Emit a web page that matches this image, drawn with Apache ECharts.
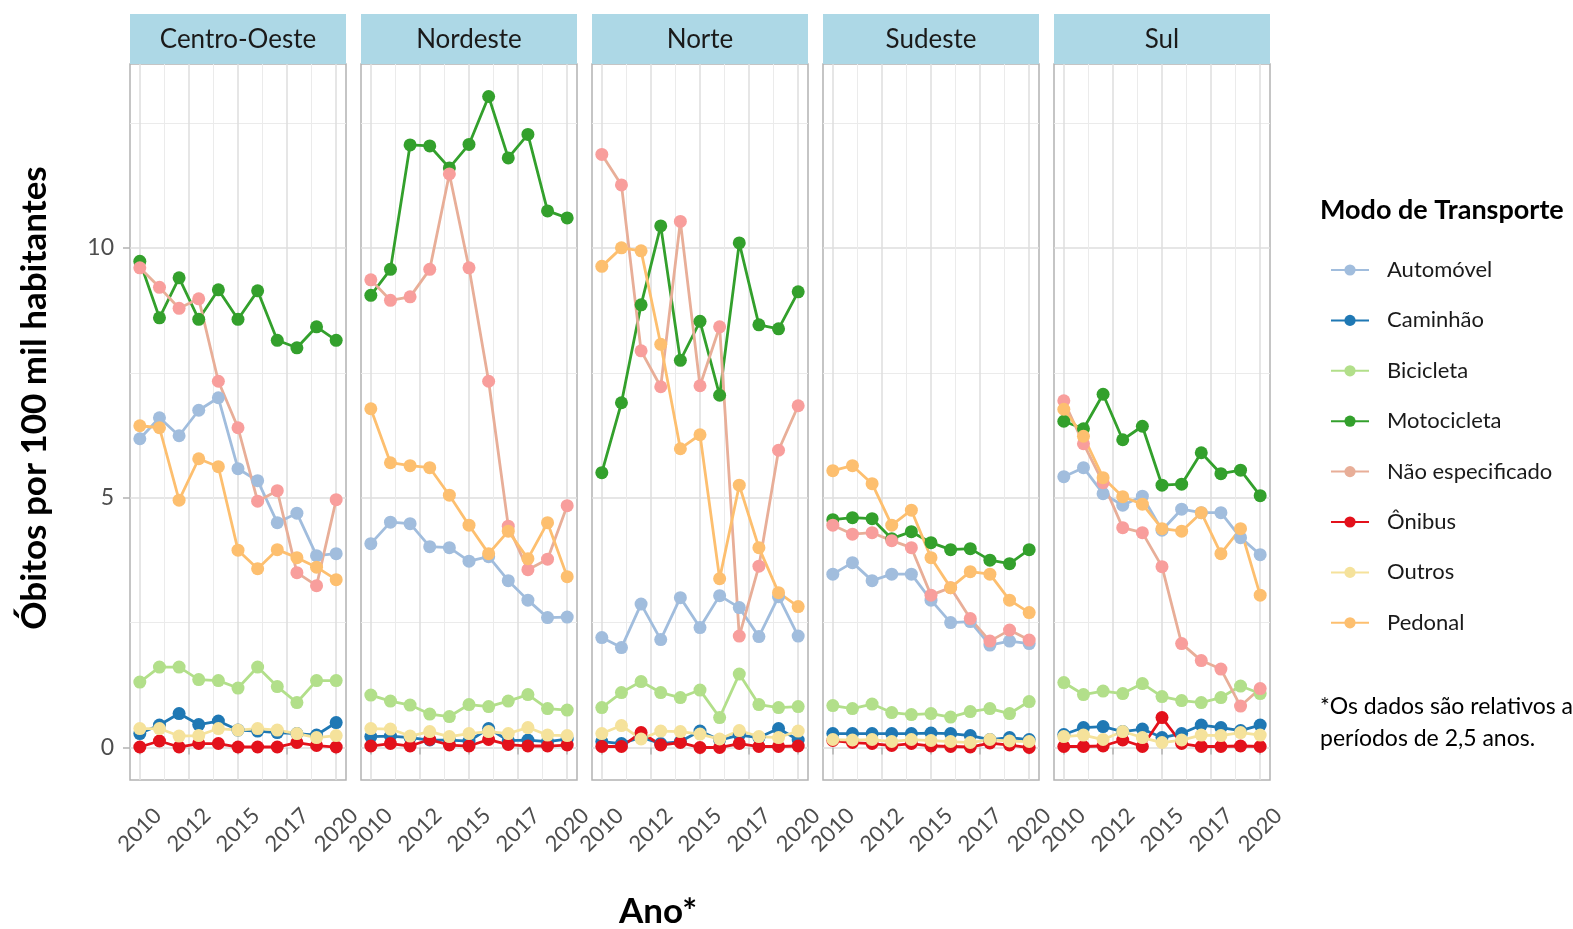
<!DOCTYPE html>
<html>
<head>
<meta charset="utf-8">
<title>Óbitos por modo de transporte</title>
<script src="https://cdn.jsdelivr.net/npm/echarts@6/dist/echarts.min.js"></script>
<style>
  html, body { margin: 0; padding: 0; background: #fff; }
  #chart { width: 1573px; height: 929px; }
</style>
</head>
<body>
<div id="chart"></div>
<script>
// anos e quebras dos eixos
const years = [2010, 2011, 2012, 2013, 2014, 2015, 2016, 2017, 2018, 2019, 2020];
const xBreaks = [2010, 2012.5, 2015, 2017.5, 2020];
const xMinor = [2011.25, 2013.75, 2016.25, 2018.75];
const yBreaks = [0, 5, 10];
const yMinor = [2.5, 7.5, 12.5];

const regions = ['Centro-Oeste', 'Nordeste', 'Norte', 'Sudeste', 'Sul'];
const modes = ['Automóvel', 'Caminhão', 'Bicicleta', 'Motocicleta', 'Não especificado', 'Ônibus', 'Outros', 'Pedonal'];
const lineColors = ['#A1BDDD', '#1F78B4', '#B2DF8A', '#33A02C', '#E8AE98', '#E3111B', '#F5E29B', '#FDBF6F'];
const dotColors  = ['#A1BDDD', '#1F78B4', '#B2DF8A', '#33A02C', '#F89E9C', '#E3111B', '#F5E29B', '#FDBF6F'];

// Centro-Oeste
const coAutomovel   = [6.18, 6.60, 6.24, 6.75, 7.00, 5.58, 5.34, 4.50, 4.69, 3.84, 3.88];
const coCaminhao    = [0.28, 0.45, 0.68, 0.46, 0.53, 0.35, 0.33, 0.30, 0.28, 0.25, 0.50];
const coBicicleta   = [1.31, 1.61, 1.61, 1.36, 1.34, 1.19, 1.61, 1.22, 0.90, 1.34, 1.34];
const coMotocicleta = [9.73, 8.60, 9.40, 8.57, 9.16, 8.57, 9.14, 8.15, 8.00, 8.42, 8.15];
const coNaoEsp      = [9.60, 9.21, 8.79, 8.98, 7.33, 6.40, 4.93, 5.14, 3.50, 3.24, 4.96];
const coOnibus      = [0.01, 0.13, 0.01, 0.08, 0.08, 0.01, 0.01, 0.01, 0.10, 0.04, 0.01];
const coOutros      = [0.38, 0.38, 0.23, 0.24, 0.38, 0.35, 0.38, 0.35, 0.28, 0.20, 0.24];
const coPedonal     = [6.44, 6.40, 4.95, 5.78, 5.62, 3.95, 3.58, 3.96, 3.80, 3.61, 3.36];

// Nordeste
const neAutomovel   = [4.08, 4.51, 4.48, 4.02, 4.00, 3.73, 3.82, 3.34, 2.95, 2.60, 2.61];
const neCaminhao    = [0.22, 0.23, 0.20, 0.15, 0.15, 0.13, 0.38, 0.14, 0.15, 0.12, 0.17];
const neBicicleta   = [1.05, 0.93, 0.85, 0.67, 0.62, 0.86, 0.82, 0.93, 1.06, 0.78, 0.75];
const neMotocicleta = [9.05, 9.57, 12.06, 12.04, 11.60, 12.07, 13.03, 11.80, 12.27, 10.74, 10.60];
const neNaoEsp      = [9.36, 8.95, 9.02, 9.57, 11.48, 9.60, 7.33, 4.43, 3.56, 3.77, 4.84];
const neOnibus      = [0.03, 0.08, 0.03, 0.16, 0.05, 0.03, 0.16, 0.06, 0.03, 0.03, 0.05];
const neOutros      = [0.38, 0.37, 0.23, 0.32, 0.22, 0.28, 0.32, 0.28, 0.40, 0.25, 0.24];
const nePedonal     = [6.78, 5.70, 5.64, 5.60, 5.05, 4.45, 3.88, 4.33, 3.78, 4.50, 3.42];

// Norte
const noAutomovel   = [2.20, 2.00, 2.87, 2.16, 3.00, 2.40, 3.04, 2.80, 2.22, 3.02, 2.23];
const noCaminhao    = [0.12, 0.08, 0.20, 0.08, 0.12, 0.33, 0.15, 0.25, 0.20, 0.38, 0.15];
const noBicicleta   = [0.80, 1.10, 1.32, 1.10, 1.00, 1.15, 0.60, 1.47, 0.86, 0.80, 0.82];
const noMotocicleta = [5.50, 6.90, 8.86, 10.44, 7.75, 8.53, 7.05, 10.10, 8.46, 8.38, 9.12];
const noNaoEsp      = [11.87, 11.26, 7.94, 7.22, 10.53, 7.24, 8.42, 2.23, 3.63, 5.95, 6.84];
const noOnibus      = [0.02, 0.02, 0.30, 0.05, 0.10, 0.00, 0.00, 0.08, 0.02, 0.02, 0.03];
const noOutros      = [0.28, 0.44, 0.17, 0.33, 0.32, 0.27, 0.17, 0.34, 0.22, 0.20, 0.33];
const noPedonal     = [9.63, 10.00, 9.94, 8.07, 5.98, 6.26, 3.38, 5.25, 4.00, 3.10, 2.82];

// Sudeste
const seAutomovel   = [3.47, 3.70, 3.34, 3.47, 3.47, 2.95, 2.50, 2.52, 2.05, 2.13, 2.08];
const seCaminhao    = [0.28, 0.28, 0.28, 0.28, 0.28, 0.29, 0.28, 0.24, 0.16, 0.20, 0.16];
const seBicicleta   = [0.84, 0.78, 0.87, 0.70, 0.66, 0.68, 0.61, 0.72, 0.78, 0.68, 0.92];
const seMotocicleta = [4.56, 4.60, 4.58, 4.18, 4.32, 4.10, 3.96, 3.98, 3.75, 3.68, 3.96];
const seNaoEsp      = [4.45, 4.27, 4.30, 4.14, 4.00, 3.05, 3.20, 2.58, 2.13, 2.35, 2.15];
const seOnibus      = [0.14, 0.10, 0.08, 0.04, 0.08, 0.03, 0.02, 0.01, 0.09, 0.05, 0.00];
const seOutros      = [0.16, 0.15, 0.16, 0.12, 0.16, 0.14, 0.12, 0.10, 0.16, 0.13, 0.12];
const sePedonal     = [5.54, 5.64, 5.28, 4.45, 4.75, 3.80, 3.20, 3.52, 3.47, 2.95, 2.70];

// Sul
const suAutomovel   = [5.42, 5.60, 5.08, 4.85, 5.03, 4.35, 4.77, 4.70, 4.70, 4.20, 3.86];
const suCaminhao    = [0.26, 0.40, 0.42, 0.32, 0.37, 0.20, 0.28, 0.45, 0.40, 0.34, 0.45];
const suBicicleta   = [1.30, 1.06, 1.13, 1.08, 1.28, 1.02, 0.94, 0.90, 1.00, 1.23, 1.08];
const suMotocicleta = [6.53, 6.38, 7.07, 6.16, 6.43, 5.25, 5.27, 5.90, 5.48, 5.55, 5.04];
const suNaoEsp      = [6.94, 6.08, 5.30, 4.40, 4.30, 3.62, 2.08, 1.74, 1.57, 0.83, 1.18];
const suOnibus      = [0.02, 0.02, 0.03, 0.15, 0.02, 0.60, 0.08, 0.02, 0.02, 0.03, 0.02];
const suOutros      = [0.22, 0.25, 0.16, 0.32, 0.20, 0.10, 0.15, 0.25, 0.24, 0.30, 0.25];
const suPedonal     = [6.77, 6.23, 5.40, 5.02, 4.87, 4.38, 4.33, 4.70, 3.88, 4.38, 3.05];

// tabela região -> séries, na mesma ordem de "modes"
const table = [
  [coAutomovel, coCaminhao, coBicicleta, coMotocicleta, coNaoEsp, coOnibus, coOutros, coPedonal],
  [neAutomovel, neCaminhao, neBicicleta, neMotocicleta, neNaoEsp, neOnibus, neOutros, nePedonal],
  [noAutomovel, noCaminhao, noBicicleta, noMotocicleta, noNaoEsp, noOnibus, noOutros, noPedonal],
  [seAutomovel, seCaminhao, seBicicleta, seMotocicleta, seNaoEsp, seOnibus, seOutros, sePedonal],
  [suAutomovel, suCaminhao, suBicicleta, suMotocicleta, suNaoEsp, suOnibus, suOutros, suPedonal]
];

const FONT = 'Lato';
const panelLeft = [130, 361, 592, 823, 1054];
const panelW = 216, panelTop = 64, panelH = 716;
const X_MIN = 2009.5, X_MAX = 2020.5, Y_MIN = -0.65, Y_MAX = 13.68;

const grid = [], xAxis = [], yAxis = [], series = [], graphic = [];

regions.forEach((reg, r) => {
  grid.push({
    left: panelLeft[r], top: panelTop, width: panelW, height: panelH,
    show: true, borderColor: '#B3B3B3', borderWidth: 1.5, backgroundColor: '#fff', z: 0
  });
  // eixo x principal (rótulos, ticks e grade maior)
  xAxis.push({
    type: 'value', gridIndex: r, min: X_MIN, max: X_MAX, position: 'bottom',
    axisLine: { show: false },
    axisTick: { show: true, length: 7, customValues: xBreaks, lineStyle: { color: '#B3B3B3', width: 1.5 } },
    axisLabel: {
      customValues: xBreaks, formatter: v => String(Math.floor(v)),
      rotate: 45, align: 'center', verticalAlign: 'middle', margin: 50,
      fontSize: 22, color: '#4D4D4D', fontFamily: FONT
    },
    splitLine: { show: true, lineStyle: { color: '#DEDEDE', width: 1.5 } }
  });
  // eixo x secundário só para a grade menor
  xAxis.push({
    type: 'value', gridIndex: r, min: X_MIN, max: X_MAX, position: 'top',
    axisLine: { show: false },
    axisTick: { show: false, customValues: xMinor },
    axisLabel: { show: false, customValues: xMinor },
    splitLine: { show: true, lineStyle: { color: '#EBEBEB', width: 1 } }
  });
  yAxis.push({
    type: 'value', gridIndex: r, min: Y_MIN, max: Y_MAX, position: 'left',
    axisLine: { show: false },
    axisTick: { show: r === 0, length: 7, customValues: yBreaks, lineStyle: { color: '#B3B3B3', width: 1.5 } },
    axisLabel: {
      show: r === 0, customValues: yBreaks, margin: 16,
      fontSize: 23, color: '#4D4D4D', fontFamily: FONT
    },
    splitLine: { show: true, lineStyle: { color: '#DEDEDE', width: 1.5 } }
  });
  yAxis.push({
    type: 'value', gridIndex: r, min: Y_MIN, max: Y_MAX, position: 'right',
    axisLine: { show: false },
    axisTick: { show: false, customValues: yMinor },
    axisLabel: { show: false, customValues: yMinor },
    splitLine: { show: true, lineStyle: { color: '#EBEBEB', width: 1 } }
  });

  // linhas primeiro, pontos depois (como geom_line + geom_point)
  modes.forEach((m, k) => {
    const data = years.map((y, i) => [y, table[r][k][i]]);
    series.push({
      type: 'line', name: m, xAxisIndex: 2 * r, yAxisIndex: 2 * r,
      data: data, showSymbol: false, symbol: 'circle', symbolSize: 13,
      lineStyle: { color: lineColors[k], width: 2.8 },
      itemStyle: { color: lineColors[k] },
      z: 2, silent: true
    });
  });
  modes.forEach((m, k) => {
    const data = years.map((y, i) => [y, table[r][k][i]]);
    series.push({
      type: 'scatter', name: m, xAxisIndex: 2 * r, yAxisIndex: 2 * r,
      data: data, symbol: 'circle', symbolSize: 13,
      itemStyle: { color: dotColors[k], opacity: 1 },
      z: 3, silent: true
    });
  });

  // faixa com o nome da região
  graphic.push({
    type: 'rect', shape: { x: panelLeft[r], y: 14, width: panelW, height: 50 },
    style: { fill: '#ADD8E6' }
  });
  graphic.push({
    type: 'text', x: panelLeft[r] + panelW / 2, y: 40,
    style: { text: reg, fontSize: 26, fontFamily: FONT, fill: '#1A1A1A', align: 'center', verticalAlign: 'middle' }
  });
});

// títulos dos eixos, legenda e nota
graphic.push({
  type: 'text', x: 35, y: 398, rotation: Math.PI / 2,
  style: { text: 'Óbitos por 100 mil habitantes', fontSize: 35, fontWeight: 'bold', fontFamily: FONT,
           fill: '#000', align: 'center', verticalAlign: 'middle' }
});
graphic.push({
  type: 'text', x: 658, y: 912,
  style: { text: 'Ano*', fontSize: 35, fontWeight: 'bold', fontFamily: FONT,
           fill: '#000', align: 'center', verticalAlign: 'middle' }
});
graphic.push({
  type: 'text', x: 1320, y: 210,
  style: { text: 'Modo de Transporte', fontSize: 27, fontWeight: 'bold', fontFamily: FONT,
           fill: '#000', align: 'left', verticalAlign: 'middle' }
});
graphic.push({
  type: 'text', x: 1320, y: 723,
  style: { text: '*Os dados são relativos a\nperíodos de 2,5 anos.', fontSize: 23, lineHeight: 32,
           fontFamily: FONT, fill: '#000', align: 'left', verticalAlign: 'middle' }
});

const chart = echarts.init(document.getElementById('chart'));
chart.setOption({
  animation: false,
  backgroundColor: '#fff',
  grid: grid,
  xAxis: xAxis,
  yAxis: yAxis,
  series: series,
  legend: {
    data: modes, orient: 'vertical', left: 1325, top: 254,
    itemWidth: 38, itemHeight: 14, itemGap: 28.4, selectedMode: false,
    textStyle: { fontSize: 22, color: '#1A1A1A', fontFamily: FONT, padding: [0, 0, 0, 13] }
  },
  graphic: graphic
});
</script>
</body>
</html>
